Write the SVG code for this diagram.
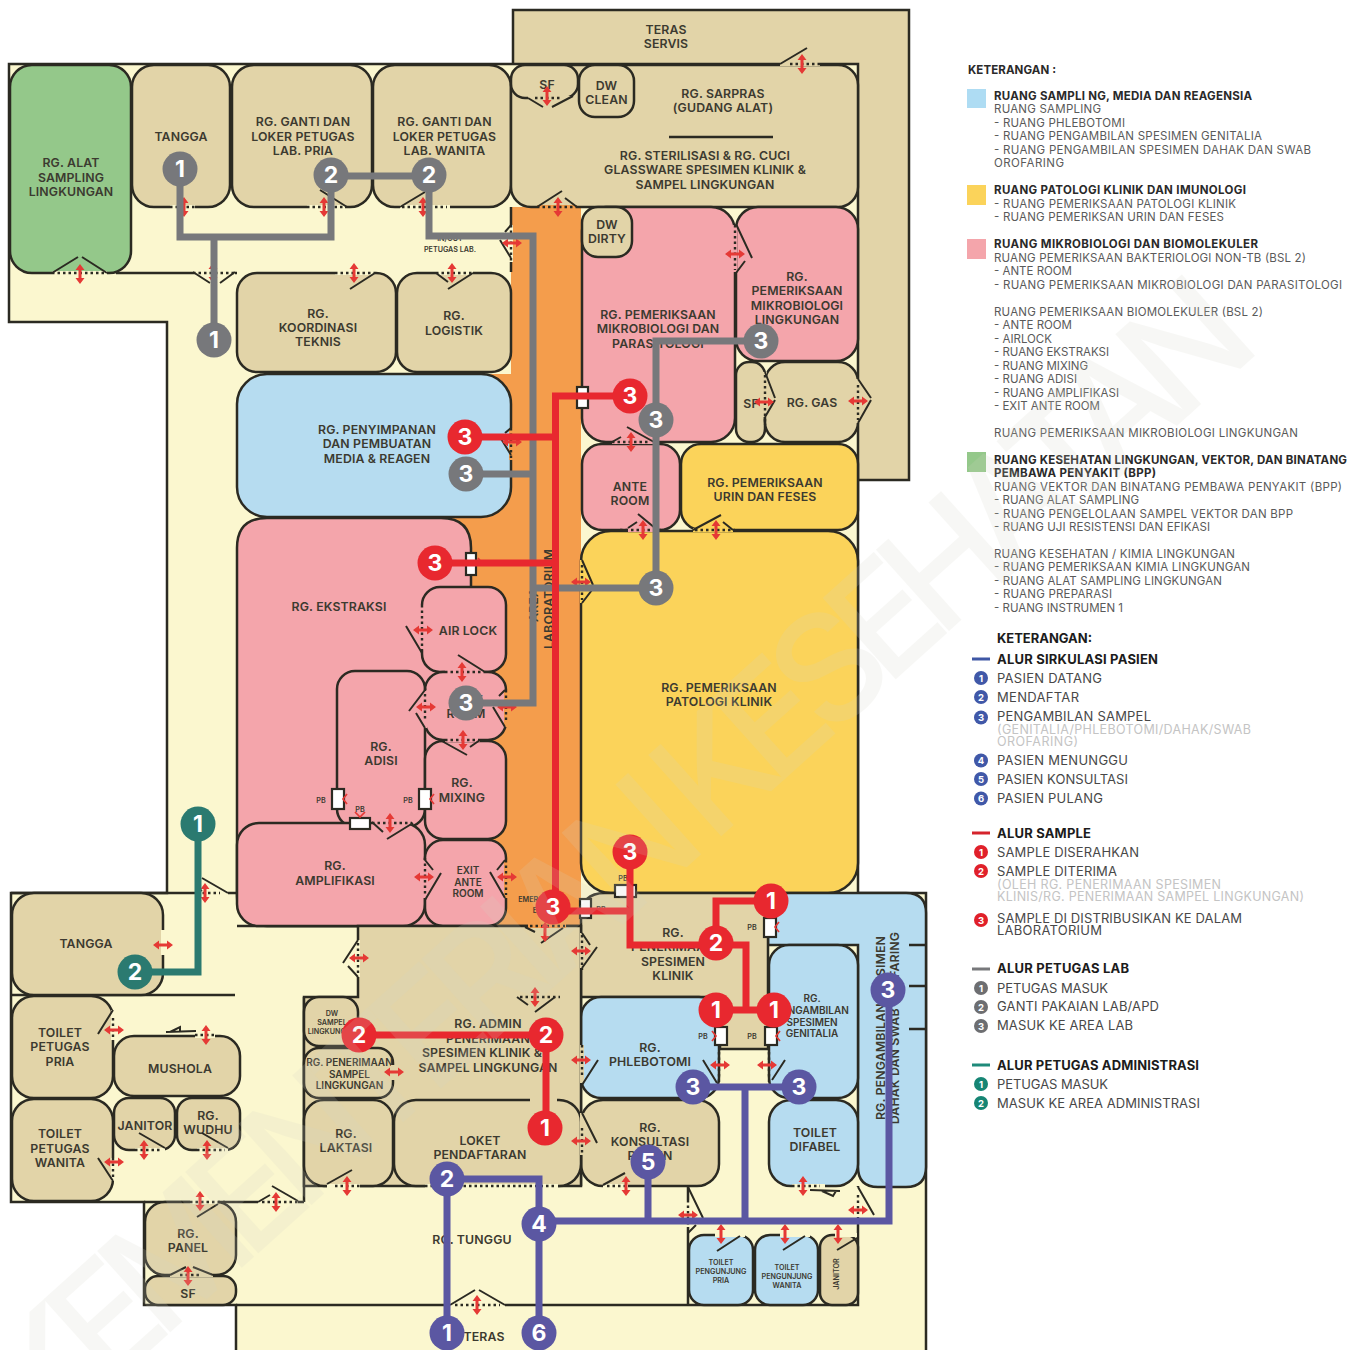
<svg xmlns="http://www.w3.org/2000/svg" width="1365" height="1350" viewBox="0 0 1365 1350">
<style>
text{font-family:Inter,"Noto Sans","Liberation Sans",sans-serif}
.r{stroke:#2b2a22;stroke-width:2.5}
.tan{fill:#e2d4a8}.cr{fill:#fbf7cf}.bl{fill:#b6dcf0}.pk{fill:#f4a5ab}.ye{fill:#fbd35a}.gr{fill:#94c88a}.or{fill:#f49d4c}
.w{fill:none;stroke:#2b2a22;stroke-width:2.5}
.g{fill:none;stroke-width:4}
.d{fill:none;stroke:#2b2a22;stroke-width:2.4;stroke-dasharray:2.5 3}
.f{fill:none;stroke:#2b2a22;stroke-width:2}
.l{font-size:12.3px;font-weight:600;fill:#3c3a30;text-anchor:middle;letter-spacing:.15px}
.m{font-size:10px;font-weight:600;fill:#3c3a30;text-anchor:middle}
.s{font-size:7.2px;font-weight:600;fill:#3c3a30;text-anchor:middle}
.pb{fill:#fff;stroke:#2b2a22;stroke-width:2.2}
.a{fill:#e53935}
.c{fill:none;stroke-width:7}
.cg{stroke:#77787b}.cr2{stroke:#e8282f}.cp{stroke:#5b57a2}.ct{stroke:#2b7a70}
.n{font-size:23px;font-weight:700;fill:#fff;text-anchor:middle}
.k{font-size:11.5px;fill:#5a5a5a}
.b{font-size:11.5px;font-weight:700;fill:#2a2a2a}
.j{font-size:13px;fill:#484848}
.h{font-size:13px;font-weight:700;fill:#1c1c1c}
.q{font-size:12.5px;fill:#c4c4c4}
.o{font-size:9.5px;font-weight:700;fill:#fff;text-anchor:middle}
</style>
<defs>
<path id="ah" class="a" d="M-10,0L-4,-4.5V-1.5H4V-4.5L10,0L4,4.5V1.5H-4V4.5Z"/>
<path id="av" class="a" d="M0,-10L4.5,-4H1.5V4H4.5L0,10L-4.5,4H-1.5V-4H-4.5Z"/>
</defs>
<rect width="1365" height="1350" fill="#fff"/>

<g id="base">
<rect class="r tan" x="513" y="10" width="396" height="470"/>
<path class="r cr" d="M9,64H858V893H926V1352H236V1305H144V1202H11V893H167V322H9Z"/>
<path class="or" d="M511,207H581V926H430V518H480V374H511Z"/>
<path class="w" d="M116,273H237M511,207V272M11,893H237M237,926H581M581,926V1186M12,995H235M304,997V1202M144,1202H304M236,1305H689M688,1186V1305H858V1186"/>
</g>

<g id="rooms">
<g id="alat-sampling"><rect class="r gr" x="10" y="65" width="121" height="208" rx="22"/><text class="l"><tspan x="71" y="167">RG. ALAT</tspan><tspan x="71" y="181.500">SAMPLING</tspan><tspan x="71" y="196">LINGKUNGAN</tspan></text></g>
<g id="tangga-atas"><rect class="r tan" x="132" y="65" width="98" height="142" rx="22"/><text class="l" x="181" y="141">TANGGA</text></g>
<g id="ganti-pria"><rect class="r tan" x="232" y="65" width="140" height="142" rx="22"/><text class="l"><tspan x="303" y="126">RG. GANTI DAN</tspan><tspan x="303" y="140.500">LOKER PETUGAS</tspan><tspan x="303" y="155">LAB. PRIA</tspan></text></g>
<g id="ganti-wanita"><rect class="r tan" x="373" y="65" width="138" height="142" rx="22"/><text class="l"><tspan x="444.500" y="126">RG. GANTI DAN</tspan><tspan x="444.500" y="140.500">LOKER PETUGAS</tspan><tspan x="444.500" y="155">LAB. WANITA</tspan></text></g>
<g id="in-out"><text class="s" x="450" y="241">IN/OUT</text><text class="s" x="450" y="252">PETUGAS LAB.</text></g>
<g id="koordinasi"><rect class="r tan" x="237" y="273" width="159" height="99" rx="20"/><text class="l"><tspan x="318" y="317.500">RG.</tspan><tspan x="318" y="332">KOORDINASI</tspan><tspan x="318" y="346">TEKNIS</tspan></text></g>
<g id="logistik"><rect class="r tan" x="397" y="273" width="114" height="99" rx="20"/><text class="l"><tspan x="454" y="320">RG.</tspan><tspan x="454" y="334.500">LOGISTIK</tspan></text></g>
<g id="penyimpanan"><rect class="r bl" x="237" y="374" width="274" height="143" rx="30"/><text class="l"><tspan x="377" y="433.500">RG. PENYIMPANAN</tspan><tspan x="377" y="448">DAN PEMBUATAN</tspan><tspan x="377" y="462.500">MEDIA &amp; REAGEN</tspan></text></g>
<g id="ekstraksi"><path class="r pk" d="M267,518H441Q471,518 471,548V926H267Q237,926 237,896V548Q237,518 267,518Z"/><text class="l" x="339" y="611">RG. EKSTRAKSI</text></g>
<g id="air-lock"><rect class="r pk" x="422" y="587" width="84" height="85" rx="18"/><text class="l" x="468" y="634.500">AIR LOCK</text></g>
<g id="ante-biomol"><rect class="r pk" x="425" y="672" width="81" height="68" rx="18"/><text class="l"><tspan x="466" y="704">ANTE</tspan><tspan x="466" y="718">ROOM</tspan></text></g>
<g id="adisi"><rect class="r pk" x="337" y="671" width="88" height="156" rx="18"/><text class="l"><tspan x="381" y="750.500">RG.</tspan><tspan x="381" y="765">ADISI</tspan></text></g>
<g id="mixing"><rect class="r pk" x="425" y="741" width="81" height="98" rx="18"/><text class="l"><tspan x="462" y="787">RG.</tspan><tspan x="462" y="801.500">MIXING</tspan></text></g>
<g id="amplifikasi"><rect class="r pk" x="237" y="823" width="188" height="103" rx="22"/><text class="l"><tspan x="335" y="870">RG.</tspan><tspan x="335" y="884.500">AMPLIFIKASI</tspan></text></g>
<g id="exit-ante"><rect class="r pk" x="425" y="840" width="81" height="86" rx="18"/><text class="m"><tspan x="468" y="874">EXIT</tspan><tspan x="468" y="885.500">ANTE</tspan><tspan x="468" y="897">ROOM</tspan></text></g>
<g id="emergency"><text class="s" x="541" y="902">EMERGENCY</text><text class="s" x="541" y="913">EXIT</text></g>
<g id="alur"><text class="l" transform="translate(538,605) rotate(-90)">AREA</text><text class="l" transform="translate(552.500,599) rotate(-90)">LABORATORIUM</text></g>
<g id="sarpras"><rect class="r tan" x="511" y="65" width="347" height="142" rx="20"/><path class="w" d="M669,137H773"/><text class="l"><tspan x="723" y="97.500">RG. SARPRAS</tspan><tspan x="723" y="112">(GUDANG ALAT)</tspan><tspan x="705" y="159.500">RG. STERILISASI &amp; RG. CUCI</tspan><tspan x="705" y="174">GLASSWARE SPESIMEN KLINIK &amp;</tspan><tspan x="705" y="188.500">SAMPEL LINGKUNGAN</tspan></text></g>
<g id="sf-atas"><rect class="r tan" x="511" y="65" width="67" height="33" rx="14"/><text class="l" x="547" y="88.500">SF</text></g>
<g id="dw-clean"><rect class="r tan" x="579" y="65" width="55" height="52" rx="16"/><text class="l"><tspan x="606.500" y="89.500">DW</tspan><tspan x="606.500" y="104">CLEAN</tspan></text></g>
<g id="teras-servis"><text class="l"><tspan x="666" y="33.500">TERAS</tspan><tspan x="666" y="48">SERVIS</tspan></text></g>
<g id="mikrobiologi"><rect class="r pk" x="582" y="207" width="153" height="235" rx="24"/><text class="l"><tspan x="658" y="318.500">RG. PEMERIKSAAN</tspan><tspan x="658" y="333">MIKROBIOLOGI DAN</tspan><tspan x="658" y="347.500">PARASITOLOGI</tspan></text></g>
<g id="dw-dirty"><rect class="r tan" x="582" y="207" width="50" height="50" rx="16"/><text class="l"><tspan x="607" y="228.500">DW</tspan><tspan x="607" y="243">DIRTY</tspan></text></g>
<g id="mikro-lingkungan"><rect class="r pk" x="736" y="207" width="122" height="154" rx="22"/><text class="l"><tspan x="797" y="280.500">RG.</tspan><tspan x="797" y="295">PEMERIKSAAN</tspan><tspan x="797" y="309.500">MIKROBIOLOGI</tspan><tspan x="797" y="324">LINGKUNGAN</tspan></text></g>
<g id="sf-gas"><rect class="r tan" x="736" y="362" width="29" height="80" rx="13"/><text class="l" x="751" y="407.500">SF</text></g>
<g id="gas"><rect class="r tan" x="765" y="362" width="93" height="80" rx="20"/><text class="l" x="812" y="406.500">RG. GAS</text></g>
<g id="ante-mikro"><rect class="r pk" x="582" y="444" width="98" height="86" rx="20"/><text class="l"><tspan x="630" y="490.500">ANTE</tspan><tspan x="630" y="505">ROOM</tspan></text></g>
<g id="urin"><rect class="r ye" x="681" y="444" width="177" height="86" rx="20"/><text class="l"><tspan x="765" y="486.500">RG. PEMERIKSAAN</tspan><tspan x="765" y="501">URIN DAN FESES</tspan></text></g>
<g id="patologi"><rect class="r ye" x="581" y="531" width="277" height="362" rx="30"/><text class="l"><tspan x="719" y="691.500">RG. PEMERIKSAAN</tspan><tspan x="719" y="706">PATOLOGI KLINIK</tspan></text></g>
<g id="dahak"><path class="r bl" d="M768,893H906Q926,893 926,913V1167Q926,1187 906,1187H878Q858,1187 858,1167V945H768Z"/><path class="w" d="M909,945H926M909,986H926M909,1029H926"/><text class="l" transform="translate(885,1028) rotate(-90)">RG. PENGAMBILAN SPESIMEN</text><text class="l" transform="translate(899,1028) rotate(-90)">DAHAK DAN SWAB OROFARING</text></g>
<g id="penerimaan-klinik"><path class="r tan" d="M605,893H768V1049H720V997H581V917Q581,893 605,893Z"/><text class="l"><tspan x="673" y="936.500">RG.</tspan><tspan x="673" y="951">PENERIMAAN</tspan><tspan x="673" y="965.500">SPESIMEN</tspan><tspan x="673" y="980">KLINIK</tspan></text></g>
<g id="phlebotomi"><rect class="r bl" x="581" y="997" width="138" height="101" rx="20"/><text class="l"><tspan x="650" y="1051.500">RG.</tspan><tspan x="650" y="1066">PHLEBOTOMI</tspan></text></g>
<g id="genitalia"><rect class="r bl" x="769" y="945" width="89" height="153" rx="20"/><text class="m"><tspan x="812" y="1002">RG.</tspan><tspan x="812" y="1014">PENGAMBILAN</tspan><tspan x="812" y="1026">SPESIMEN</tspan><tspan x="812" y="1037">GENITALIA</tspan></text></g>
<g id="konsultasi"><rect class="r tan" x="581" y="1100" width="138" height="86" rx="22"/><text class="l"><tspan x="650" y="1131.500">RG.</tspan><tspan x="650" y="1146">KONSULTASI</tspan><tspan x="650" y="1160">PASIEN</tspan></text></g>
<g id="difabel"><rect class="r bl" x="769" y="1100" width="89" height="86" rx="22"/><text class="l"><tspan x="815" y="1136.500">TOILET</tspan><tspan x="815" y="1151">DIFABEL</tspan></text></g>
<g id="admin"><path class="r tan" d="M358,926H581V1186H304V997H358Z"/><text class="l"><tspan x="488" y="1027.500">RG. ADMIN</tspan><tspan x="488" y="1042.500">PENERIMAAN</tspan><tspan x="482" y="1056.500">SPESIMEN KLINIK &amp;</tspan><tspan x="488" y="1071.500">SAMPEL LINGKUNGAN</tspan></text></g>
<g id="dw-sampel"><rect class="r tan" x="304" y="997" width="54" height="49" rx="15"/><text class="s"><tspan x="332" y="1016">DW</tspan><tspan x="332" y="1025">SAMPEL</tspan><tspan x="332" y="1034">LINGKUNGAN</tspan></text></g>
<g id="penerimaan-sampel"><rect class="r tan" x="304" y="1048" width="89" height="50" rx="15"/><text class="m"><tspan x="349.500" y="1066">RG. PENERIMAAN</tspan><tspan x="349.500" y="1077.500">SAMPEL</tspan><tspan x="349.500" y="1089">LINGKUNGAN</tspan></text></g>
<g id="laktasi"><rect class="r tan" x="304" y="1100" width="89" height="86" rx="20"/><text class="l"><tspan x="346" y="1137.500">RG.</tspan><tspan x="346" y="1151.500">LAKTASI</tspan></text></g>
<g id="loket"><rect class="r tan" x="394" y="1100" width="187" height="86" rx="22"/><text class="l"><tspan x="480" y="1144.500">LOKET</tspan><tspan x="480" y="1159">PENDAFTARAN</tspan></text></g>
<g id="tangga-bawah"><rect class="r tan" x="12" y="893" width="151" height="102" rx="22"/><text class="l" x="86" y="947.500">TANGGA</text></g>
<g id="toilet-pria"><rect class="r tan" x="12" y="996" width="101" height="102" rx="22"/><text class="l"><tspan x="60" y="1036.500">TOILET</tspan><tspan x="60" y="1051">PETUGAS</tspan><tspan x="60" y="1065.500">PRIA</tspan></text></g>
<g id="toilet-wanita"><rect class="r tan" x="12" y="1099" width="101" height="102" rx="22"/><text class="l"><tspan x="60" y="1138">TOILET</tspan><tspan x="60" y="1152.500">PETUGAS</tspan><tspan x="60" y="1167">WANITA</tspan></text></g>
<g id="mushola"><rect class="r tan" x="114" y="1036" width="126" height="60" rx="20"/><text class="l" x="180" y="1072.500">MUSHOLA</text></g>
<g id="janitor"><rect class="r tan" x="114" y="1098" width="61" height="52" rx="15"/><text class="l" x="145" y="1129.500">JANITOR</text></g>
<g id="wudhu"><rect class="r tan" x="177" y="1098" width="63" height="52" rx="15"/><text class="l"><tspan x="208" y="1119.500">RG.</tspan><tspan x="208" y="1134">WUDHU</tspan></text></g>
<g id="panel"><rect class="r tan" x="145" y="1202" width="91" height="73" rx="20"/><text class="l"><tspan x="188" y="1237.500">RG.</tspan><tspan x="188" y="1252">PANEL</tspan></text></g>
<g id="sf-panel"><rect class="r tan" x="145" y="1276" width="91" height="29" rx="13"/><text class="l" x="188" y="1298">SF</text></g>
<g id="pengunjung-pria"><rect class="r bl" x="689" y="1235" width="64" height="70" rx="15"/><text class="s"><tspan x="721" y="1265">TOILET</tspan><tspan x="721" y="1274">PENGUNJUNG</tspan><tspan x="721" y="1283">PRIA</tspan></text></g>
<g id="pengunjung-wanita"><rect class="r bl" x="755" y="1235" width="63" height="70" rx="15"/><text class="s"><tspan x="787" y="1270">TOILET</tspan><tspan x="787" y="1279">PENGUNJUNG</tspan><tspan x="787" y="1288">WANITA</tspan></text></g>
<g id="janitor-pengunjung"><rect class="r tan" x="820" y="1235" width="38" height="70" rx="12"/><text class="s" transform="translate(839,1274) rotate(-90)">JANITOR</text></g>
<g id="tunggu"><text class="l" x="472" y="1243.500">RG. TUNGGU</text><text class="l" x="484" y="1340.500">TERAS</text></g>
</g>

<g id="doors">
<path class="g" stroke="#fbf7cf" d="M52,273H107M170,207H195M307,207H345M400,207H450M193,273H235M335,273H375M436,273H473M358,940V977M327,1186H360M425,1186H558M603,1186H628M792,1186H825M688,1200V1227M858,1187V1225M715,1235H745M780,1235H810M835,1235H857M197,893H228M163,930V955M113,1010V1040M113,1158V1181M195,1036H215M135,1150H165M197,1150H228M190,1202H218M258,1202H298M450,1305H505M511,225V262"/>
<path class="g" stroke="#f4a5ab" d="M422,605V650M425,690V728M445,672H485M445,740H480M425,860V898M372,823H412M735,225V272M612,442H654M628,530H655"/>
<path class="g" stroke="#f49d4c" d="M506,690V727M506,860V898M511,428V460M537,207H577M528,926H566"/>
<path class="g" stroke="#e2d4a8" d="M765,372V417M858,379V423M528,98H573M780,64H820M582,933V968M517,997H555M582,1045V1083M582,1113V1155M393,1065V1080M530,1100H557M170,1275H213"/>
<path class="g" stroke="#fbd35a" d="M693,530H733M582,560V603"/>
<path class="d" d="M52,273H107M170,207H195M307,207H345M402,207H447M193,273H235M335,273H375M436,273H473M511,225V262M511,428V460M422,605V650M425,683V720M506,690V720M445,672H485M445,740H480M425,858V895M506,860V895M372,823H412M735,225V270M612,442H650M765,375V425M858,385V420M620,530H665M695,530H735M535,98H562M790,64H820M537,207H577M582,565V600M530,926H565M358,943V975M582,935V970M520,997H560M582,1045V1078M582,1128V1155M335,1186H360M425,1186H556M607,1186H628M792,1186H820M688,1200V1227M858,1195V1225M719,1052V1083M769,1052V1083M197,893H220M113,1018V1040M113,1158V1180M195,1035H215M135,1150H160M197,1150H225M190,1202H225M262,1202H300M180,1275H200M455,1305H500"/>
<path class="f" d="M52,273L78,257M82,257L107,273M320,190L347,207M400,207L425,192M193,272L210,283M220,283L235,272M350,289L375,273M436,273L448,282M448,289L473,273M500,240L511,258M511,225L505,232M500,437L511,455M511,428L505,433M406,626L422,653M458,655L485,672M425,690L409,711M416,713L425,728M493,707L505,727M505,690L499,696M440,740L467,755M470,747L480,740M425,860L433,870M441,873L425,900M505,860L497,870M490,872L505,898M372,822L383,832M387,839L413,823M736,224L752,258M745,261L736,273M612,442L621,437M627,427L654,442M765,372L775,398M775,400L765,417M858,379L871,398M871,400L858,423M638,514L655,528M637,522L628,528M693,530L721,515M723,522L733,530M528,98L543,107M552,107L573,96M780,64L807,48M537,207L562,191M565,198L577,207M582,560L593,585M592,590L582,603M525,927L535,932M541,943L563,928M358,940L343,963M348,966L358,977M582,933L590,945M597,947L582,968M517,997L528,1005M535,1012L555,997M598,1060L582,1085M582,1113L597,1143M327,1184L352,1170M603,1185L625,1173M688,1187L703,1218M696,1225L688,1233M858,1187L874,1215M717,1251L740,1236M783,1250L805,1236M837,1250L857,1238M703,1060L717,1083M785,1060L772,1080M202,878L228,893M197,893L202,890M113,1010L98,1034M98,1158L113,1181M166,1032L196,1031M170,1032L180,1027L180,1032M139,1133L165,1148M202,1133L228,1148M197,1217L218,1204M258,1202L270,1195M272,1186L298,1201M170,1275L186,1267M193,1267L213,1275M450,1305L475,1290M479,1290L505,1305M810,1190L840,1191M822,1191L833,1196L836,1191"/>
<use href="#av" x="80" y="274"/><use href="#av" x="184" y="207"/><use href="#av" x="324" y="207"/><use href="#av" x="423" y="207"/><use href="#av" x="213" y="273"/><use href="#av" x="354" y="273"/><use href="#av" x="452" y="273"/>
<use href="#ah" x="512" y="243"/><use href="#ah" x="512" y="442"/><use href="#ah" x="423" y="630"/><use href="#av" x="462" y="672"/><use href="#ah" x="426" y="707"/><use href="#ah" x="507" y="707"/><use href="#av" x="463" y="740"/><use href="#ah" x="424" y="877"/><use href="#ah" x="507" y="877"/><use href="#av" x="390" y="823"/>
<use href="#ah" x="735" y="254"/><use href="#av" x="631" y="442"/><use href="#ah" x="764" y="402"/><use href="#ah" x="858" y="401"/><use href="#av" x="643" y="530"/><use href="#av" x="716" y="530"/><use href="#av" x="547" y="96"/><use href="#av" x="802" y="64"/><use href="#av" x="558" y="207"/><use href="#ah" x="581" y="582"/>
<use href="#av" x="545" y="932"/><use href="#ah" x="359" y="958"/><use href="#ah" x="581" y="951"/><use href="#av" x="535" y="997"/><use href="#ah" x="581" y="1060"/><use href="#ah" x="581" y="1141"/><use href="#ah" x="394" y="1072"/><use href="#av" x="347" y="1186"/><use href="#av" x="626" y="1186"/><use href="#av" x="803" y="1186"/><use href="#ah" x="688" y="1215"/><use href="#ah" x="858" y="1210"/><use href="#av" x="721" y="1234"/><use href="#av" x="785" y="1234"/><use href="#av" x="838" y="1234"/><use href="#ah" x="720" y="1065"/><use href="#ah" x="767" y="1065"/>
<use href="#av" x="205" y="893"/><use href="#ah" x="163" y="945"/><use href="#ah" x="114" y="1030"/><use href="#ah" x="114" y="1162"/><use href="#av" x="206" y="1035"/><use href="#av" x="144" y="1150"/><use href="#av" x="207" y="1150"/><use href="#av" x="200" y="1201"/><use href="#av" x="276" y="1202"/><use href="#av" x="188" y="1276"/><use href="#av" x="477" y="1305"/>
<g id="pass-boxes">
<rect class="pb" x="577" y="387" width="11" height="21"/>
<rect class="pb" x="466" y="553" width="10" height="22"/>
<rect class="pb" x="332" y="789" width="12" height="20"/>
<rect class="pb" x="419" y="789" width="12" height="20"/>
<rect class="pb" x="350" y="818" width="20" height="11"/>
<rect class="pb" x="580" y="899" width="11" height="19"/>
<rect class="pb" x="615" y="885" width="21" height="12"/>
<rect class="pb" x="764" y="918" width="12" height="19"/>
<rect class="pb" x="715" y="1027" width="12" height="18"/>
<rect class="pb" x="765" y="1027" width="12" height="18"/>
<path fill="none" stroke="#e53935" stroke-width="1.700" d="M347,794L343,799L347,804M434,794L430,799L434,804M355,812L360,817L365,812M779,922L775,927L779,932M712,1031L716,1036L712,1041M780,1031L776,1036L780,1041M478,558L482,563"/>
<g class="s" font-size="8"><text x="321" y="802.500">PB</text><text x="408" y="802.500">PB</text><text x="360" y="812">PB</text><text x="601" y="912">PB</text><text x="623" y="881">PB</text><text x="752" y="930">PB</text><text x="703" y="1039">PB</text><text x="752" y="1039">PB</text></g>
</g>
</g>

<g id="connectors">
<path class="c cg" d="M180,169V237H331V175M214,237V340M331,176H429M429,175V236H533V703H466M533,474H466M533,588H656M761,341H656V588"/>
<path class="c cr2" d="M465,437H555.500M630,396H555.500V907M435,563H555.500M553,911H630M630,852V945H716M716,945V901H771M716,945H746V1010M716,1010H774M359,1035H546V1128"/>
<path class="c cp" d="M447,1333V1179H539V1333M539,1221H889V990M648,1162V1221M745,1087V1221M693,1087H799"/>
<path class="c ct" d="M198,824V972H135"/>
</g>

<g id="markers">
<defs>
<g id="dot"><circle r="17.500"/></g>
</defs>
<g id="lab-1a" fill="#77787b"><use href="#dot" x="180" y="169"/><text class="n" x="180" y="177">1</text></g>
<g id="lab-1b" fill="#77787b"><use href="#dot" x="214" y="340"/><text class="n" x="214" y="348">1</text></g>
<g id="lab-2a" fill="#77787b"><use href="#dot" x="331" y="175"/><text class="n" x="331" y="183">2</text></g>
<g id="lab-2b" fill="#77787b"><use href="#dot" x="429" y="175"/><text class="n" x="429" y="183">2</text></g>
<g id="lab-3a" fill="#77787b"><use href="#dot" x="761" y="341"/><text class="n" x="761" y="349">3</text></g>
<g id="lab-3b" fill="#77787b"><use href="#dot" x="656" y="420"/><text class="n" x="656" y="428">3</text></g>
<g id="lab-3c" fill="#77787b"><use href="#dot" x="656" y="588"/><text class="n" x="656" y="596">3</text></g>
<g id="lab-3d" fill="#77787b"><use href="#dot" x="466" y="474"/><text class="n" x="466" y="482">3</text></g>
<g id="lab-3e" fill="#77787b"><use href="#dot" x="466" y="703"/><text class="n" x="466" y="711">3</text></g>
<g id="sam-3a" fill="#e8282f"><use href="#dot" x="630" y="396"/><text class="n" x="630" y="404">3</text></g>
<g id="sam-3b" fill="#e8282f"><use href="#dot" x="465" y="437"/><text class="n" x="465" y="445">3</text></g>
<g id="sam-3c" fill="#e8282f"><use href="#dot" x="435" y="563"/><text class="n" x="435" y="571">3</text></g>
<g id="sam-3d" fill="#e8282f"><use href="#dot" x="553" y="907"/><text class="n" x="553" y="915">3</text></g>
<g id="sam-3e" fill="#e8282f"><use href="#dot" x="630" y="852"/><text class="n" x="630" y="860">3</text></g>
<g id="sam-1a" fill="#e8282f"><use href="#dot" x="771" y="901"/><text class="n" x="771" y="909">1</text></g>
<g id="sam-2a" fill="#e8282f"><use href="#dot" x="716" y="943"/><text class="n" x="716" y="951">2</text></g>
<g id="sam-1b" fill="#e8282f"><use href="#dot" x="716" y="1010"/><text class="n" x="716" y="1018">1</text></g>
<g id="sam-1c" fill="#e8282f"><use href="#dot" x="774" y="1010"/><text class="n" x="774" y="1018">1</text></g>
<g id="sam-2b" fill="#e8282f"><use href="#dot" x="359" y="1035"/><text class="n" x="359" y="1043">2</text></g>
<g id="sam-2c" fill="#e8282f"><use href="#dot" x="546" y="1035"/><text class="n" x="546" y="1043">2</text></g>
<g id="sam-1d" fill="#e8282f"><use href="#dot" x="545" y="1128"/><text class="n" x="545" y="1136">1</text></g>
<g id="pas-1" fill="#5b57a2"><use href="#dot" x="447" y="1333"/><text class="n" x="447" y="1341">1</text></g>
<g id="pas-2" fill="#5b57a2"><use href="#dot" x="447" y="1179"/><text class="n" x="447" y="1187">2</text></g>
<g id="pas-4" fill="#5b57a2"><use href="#dot" x="539" y="1224"/><text class="n" x="539" y="1232">4</text></g>
<g id="pas-6" fill="#5b57a2"><use href="#dot" x="539" y="1333"/><text class="n" x="539" y="1341">6</text></g>
<g id="pas-5" fill="#5b57a2"><use href="#dot" x="648" y="1162"/><text class="n" x="648" y="1170">5</text></g>
<g id="pas-3a" fill="#5b57a2"><use href="#dot" x="693" y="1087"/><text class="n" x="693" y="1095">3</text></g>
<g id="pas-3b" fill="#5b57a2"><use href="#dot" x="799" y="1087"/><text class="n" x="799" y="1095">3</text></g>
<g id="pas-3c" fill="#5b57a2"><use href="#dot" x="888" y="990"/><text class="n" x="888" y="998">3</text></g>
<g id="adm-1" fill="#2b7a70"><use href="#dot" x="198" y="824"/><text class="n" x="198" y="832">1</text></g>
<g id="adm-2" fill="#2b7a70"><use href="#dot" x="135" y="972"/><text class="n" x="135" y="980">2</text></g>
</g>

<g id="legend">
<text class="b" font-size="11" x="968" y="74" textLength="88">KETERANGAN :</text>
<rect class="bl" x="967" y="89" width="19" height="19" style="fill:#aedcf3"/>
<rect class="ye" x="967" y="185" width="19" height="20"/>
<rect class="pk" x="967" y="239" width="19" height="20"/>
<rect class="gr" x="967" y="452" width="19" height="20"/>
<text class="b" x="994" y="100" textLength="258">RUANG SAMPLI NG, MEDIA DAN REAGENSIA</text>
<text class="k" x="994" y="113" textLength="107">RUANG SAMPLING</text>
<text class="k" x="994" y="127" textLength="131">- RUANG PHLEBOTOMI</text>
<text class="k" x="994" y="140" textLength="268">- RUANG PENGAMBILAN SPESIMEN GENITALIA</text>
<text class="k" x="994" y="154" textLength="317">- RUANG PENGAMBILAN SPESIMEN DAHAK DAN SWAB</text>
<text class="k" x="994" y="167" textLength="70">OROFARING</text>
<text class="b" x="994" y="194" textLength="252">RUANG PATOLOGI KLINIK DAN IMUNOLOGI</text>
<text class="k" x="994" y="208" textLength="242">- RUANG PEMERIKSAAN PATOLOGI KLINIK</text>
<text class="k" x="994" y="221" textLength="230">- RUANG PEMERIKSAN URIN DAN FESES</text>
<text class="b" x="994" y="248" textLength="264">RUANG MIKROBIOLOGI DAN BIOMOLEKULER</text>
<text class="k" x="994" y="262" textLength="312">RUANG PEMERIKSAAN BAKTERIOLOGI NON-TB (BSL 2)</text>
<text class="k" x="994" y="275" textLength="78">- ANTE ROOM</text>
<text class="k" x="994" y="289" textLength="348">- RUANG PEMERIKSAAN MIKROBIOLOGI DAN PARASITOLOGI</text>
<text class="k" x="994" y="315.500" textLength="269">RUANG PEMERIKSAAN BIOMOLEKULER (BSL 2)</text>
<text class="k" x="994" y="329" textLength="78">- ANTE ROOM</text>
<text class="k" x="994" y="342.500" textLength="58">- AIRLOCK</text>
<text class="k" x="994" y="356" textLength="115">- RUANG EKSTRAKSI</text>
<text class="k" x="994" y="369.500" textLength="94">- RUANG MIXING</text>
<text class="k" x="994" y="383" textLength="83">- RUANG ADISI</text>
<text class="k" x="994" y="396.500" textLength="125">- RUANG AMPLIFIKASI</text>
<text class="k" x="994" y="410" textLength="106">- EXIT ANTE ROOM</text>
<text class="k" x="994" y="437" textLength="304">RUANG PEMERIKSAAN MIKROBIOLOGI LINGKUNGAN</text>
<text class="b" x="994" y="464" textLength="353">RUANG KESEHATAN LINGKUNGAN, VEKTOR, DAN BINATANG</text>
<text class="b" x="994" y="477" textLength="162">PEMBAWA PENYAKIT (BPP)</text>
<text class="k" x="994" y="491" textLength="348">RUANG VEKTOR DAN BINATANG PEMBAWA PENYAKIT (BPP)</text>
<text class="k" x="994" y="504" textLength="145">- RUANG ALAT SAMPLING</text>
<text class="k" x="994" y="518" textLength="299">- RUANG PENGELOLAAN SAMPEL VEKTOR DAN BPP</text>
<text class="k" x="994" y="531" textLength="216">- RUANG UJI RESISTENSI DAN EFIKASI</text>
<text class="k" x="994" y="558" textLength="241">RUANG KESEHATAN / KIMIA LINGKUNGAN</text>
<text class="k" x="994" y="571" textLength="256">- RUANG PEMERIKSAAN KIMIA LINGKUNGAN</text>
<text class="k" x="994" y="585" textLength="228">- RUANG ALAT SAMPLING LINGKUNGAN</text>
<text class="k" x="994" y="598" textLength="118">- RUANG PREPARASI</text>
<text class="k" x="994" y="612" textLength="129">- RUANG INSTRUMEN 1</text>

<text class="h" x="997" y="642.500" textLength="95">KETERANGAN:</text>
<path fill="none" stroke="#3f57a5" stroke-width="3" d="M972,659H990"/>
<text class="h" x="997" y="663.500" textLength="161">ALUR SIRKULASI PASIEN</text>
<g fill="#4058a8">
<circle cx="981" cy="678" r="7"/><circle cx="981" cy="697" r="7"/><circle cx="981" cy="717.500" r="7"/><circle cx="981" cy="760.500" r="7"/><circle cx="981" cy="779" r="7"/><circle cx="981" cy="798.500" r="7"/></g>
<text class="o" x="981" y="681.500">1</text><text class="o" x="981" y="700.500">2</text><text class="o" x="981" y="721">3</text><text class="o" x="981" y="764">4</text><text class="o" x="981" y="782.500">5</text><text class="o" x="981" y="802">6</text>
<text class="j" x="997" y="682.500" textLength="105">PASIEN DATANG</text>
<text class="j" x="997" y="701.500" textLength="82">MENDAFTAR</text>
<text class="j" x="997" y="721" textLength="154">PENGAMBILAN SAMPEL</text>
<text class="q" x="997" y="733.500" textLength="254">(GENITALIA/PHLEBOTOMI/DAHAK/SWAB</text>
<text class="q" x="997" y="746" textLength="81">OROFARING)</text>
<text class="j" x="997" y="764.500" textLength="131">PASIEN MENUNGGU</text>
<text class="j" x="997" y="783.500" textLength="131">PASIEN KONSULTASI</text>
<text class="j" x="997" y="803" textLength="106">PASIEN PULANG</text>

<path fill="none" stroke="#d5232c" stroke-width="3" d="M972,833H990"/>
<text class="h" x="997" y="837.500" textLength="94">ALUR SAMPLE</text>
<g fill="#e0202a"><circle cx="981" cy="852" r="7"/><circle cx="981" cy="871" r="7"/><circle cx="981" cy="920" r="7"/></g>
<text class="o" x="981" y="855.500">1</text><text class="o" x="981" y="874.500">2</text><text class="o" x="981" y="923.500">3</text>
<text class="j" x="997" y="856.500" textLength="142">SAMPLE DISERAHKAN</text>
<text class="j" x="997" y="875.500" textLength="120">SAMPLE DITERIMA</text>
<text class="q" x="997" y="888.500" textLength="224">(OLEH RG. PENERIMAAN SPESIMEN</text>
<text class="q" x="997" y="901" textLength="307">KLINIS/RG. PENERIMAAN SAMPEL LINGKUNGAN)</text>
<text class="j" x="997" y="922.500" textLength="245">SAMPLE DI DISTRIBUSIKAN KE DALAM</text>
<text class="j" x="997" y="934.500" textLength="105">LABORATORIUM</text>

<path fill="none" stroke="#77787b" stroke-width="3" d="M972,969H990"/>
<text class="h" x="997" y="973" textLength="132">ALUR PETUGAS LAB</text>
<g fill="#6d6e71"><circle cx="981" cy="988" r="7"/><circle cx="981" cy="1007" r="7"/><circle cx="981" cy="1026" r="7"/></g>
<text class="o" x="981" y="991.500">1</text><text class="o" x="981" y="1010.500">2</text><text class="o" x="981" y="1029.500">3</text>
<text class="j" x="997" y="992.500" textLength="111">PETUGAS MASUK</text>
<text class="j" x="997" y="1011" textLength="162">GANTI PAKAIAN LAB/APD</text>
<text class="j" x="997" y="1029.500" textLength="136">MASUK KE AREA LAB</text>

<path fill="none" stroke="#1f8a7a" stroke-width="3" d="M972,1065H990"/>
<text class="h" x="997" y="1069.500" textLength="202">ALUR PETUGAS ADMINISTRASI</text>
<g fill="#168574"><circle cx="981" cy="1084" r="7"/><circle cx="981" cy="1103" r="7"/></g>
<text class="o" x="981" y="1087.500">1</text><text class="o" x="981" y="1106.500">2</text>
<text class="j" x="997" y="1088.500" textLength="111">PETUGAS MASUK</text>
<text class="j" x="997" y="1107.500" textLength="203">MASUK KE AREA ADMINISTRASI</text>
</g>

<g id="watermark"><text x="0" y="0" transform="translate(45,1445) rotate(-42)" font-size="150" font-weight="500" fill="#d4d4c6" opacity="0.17" textLength="1640">KEMENTERIAN KESEHATAN</text></g>
</svg>
